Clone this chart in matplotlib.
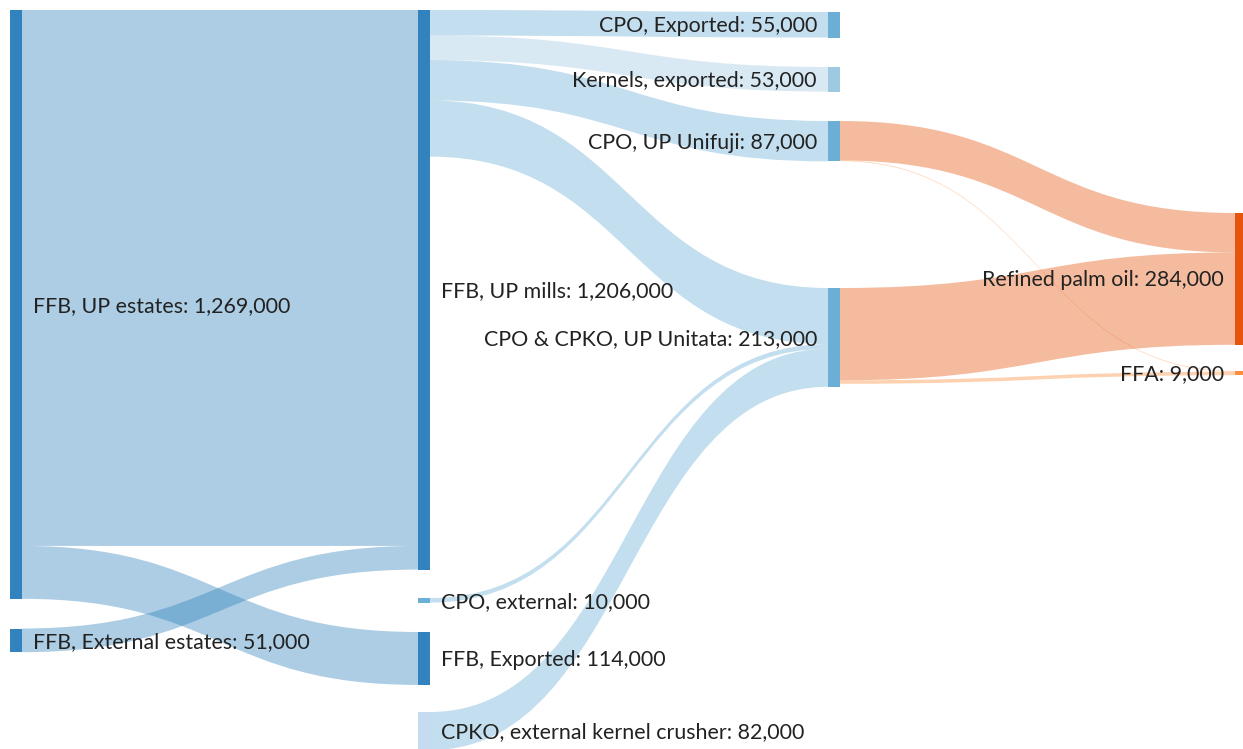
# palm oil flows sankey, drawn by hand with bezier patches

import matplotlib.pyplot as plt
from matplotlib.path import Path
from matplotlib.patches import PathPatch, Rectangle

# nodes
names = ['FFB, UP estates', 'FFB, External estates', 'FFB, UP mills', 'CPO, external',
         'FFB, Exported', 'CPKO, external kernel crusher', 'CPO, Exported',
         'Kernels, exported', 'CPO, UP Unifuji', 'CPO & CPKO, UP Unitata',
         'Refined palm oil', 'FFA']
values = [1269000, 51000, 1206000, 10000, 114000, 82000, 55000, 53000, 87000, 213000,
          284000, 9000]
node_colors = ['#3182bd', '#3182bd', '#3182bd', '#6baed6', '#3182bd', '#c6dbef',
               '#6baed6', '#9ecae1', '#6baed6', '#6baed6', '#e6550d', '#fd8d3c']

# links (source, target, value)
sources = [0, 0, 1, 2, 2, 2, 2, 3, 5, 8, 8, 9, 9]
targets = [2, 4, 2, 6, 7, 8, 9, 9, 9, 10, 11, 10, 11]
flows = [1155000, 114000, 51000, 55000, 53000, 87000, 121000, 10000, 82000,
         85000, 1500, 199000, 7500]

# layout (pixels)
col = [0, 0, 1, 1, 1, 1, 2, 2, 2, 2, 3, 3]
col_x = [10, 418, 828, 1235]
tops = [10, 628.5, 10, 598, 632, 712, 12, 67, 121, 288, 213, 371]
label_side = ['r', 'r', 'r', 'r', 'r', 'r', 'l', 'l', 'l', 'l', 'l', 'l']
W = 1243
H = 749
node_w = 12
k = 0.000464  # px per tonne

plt.rcParams['font.family'] = ['Lato', 'DejaVu Sans']

fig = plt.figure(figsize=(W / 100, H / 100), dpi=100)
ax = fig.add_axes([0, 0, 1, 1])
ax.set_xlim(0, W)
ax.set_ylim(H, 0)
ax.axis('off')

# stack link ends on each node, sorted by the other end's position
out_off = {}
in_off = {}
order = sorted(range(len(flows)), key=lambda i: (sources[i], tops[targets[i]]))
ys0 = {}
for i in order:
    s = sources[i]
    ys0[i] = tops[s] + out_off.get(s, 0)
    out_off[s] = out_off.get(s, 0) + flows[i] * k
order = sorted(range(len(flows)), key=lambda i: (targets[i], tops[sources[i]]))
ys1 = {}
for i in order:
    t = targets[i]
    ys1[i] = tops[t] + in_off.get(t, 0)
    in_off[t] = in_off.get(t, 0) + flows[i] * k

for i in range(len(flows)):
    s, t = sources[i], targets[i]
    x0 = col_x[col[s]] + node_w
    x1 = col_x[col[t]]
    xm = (x0 + x1) / 2
    h = flows[i] * k
    a0, a1 = ys0[i], ys1[i]
    verts = [(x0, a0), (xm, a0), (xm, a1), (x1, a1),
             (x1, a1 + h), (xm, a1 + h), (xm, a0 + h), (x0, a0 + h), (x0, a0)]
    codes = [Path.MOVETO, Path.CURVE4, Path.CURVE4, Path.CURVE4,
             Path.LINETO, Path.CURVE4, Path.CURVE4, Path.CURVE4, Path.CLOSEPOLY]
    # links take the colour of the node they flow into
    ax.add_patch(PathPatch(Path(verts, codes), facecolor=node_colors[t], alpha=0.4,
                           edgecolor='none', zorder=1))

for n in range(len(names)):
    x = col_x[col[n]]
    h = values[n] * k
    ax.add_patch(Rectangle((x, tops[n]), node_w, h, facecolor=node_colors[n],
                           edgecolor='none', zorder=2))
    txt = f'{names[n]}: {values[n]:,}'
    yc = tops[n] + h / 2 + 1.5
    if label_side[n] == 'r':
        ax.text(x + node_w + 11, yc, txt, ha='left', va='center', fontsize=15.4,
                color='#222222', zorder=3)
    else:
        ax.text(x - 11, yc, txt, ha='right', va='center', fontsize=15.4,
                color='#222222', zorder=3)

fig.savefig('out.png', dpi=100)
